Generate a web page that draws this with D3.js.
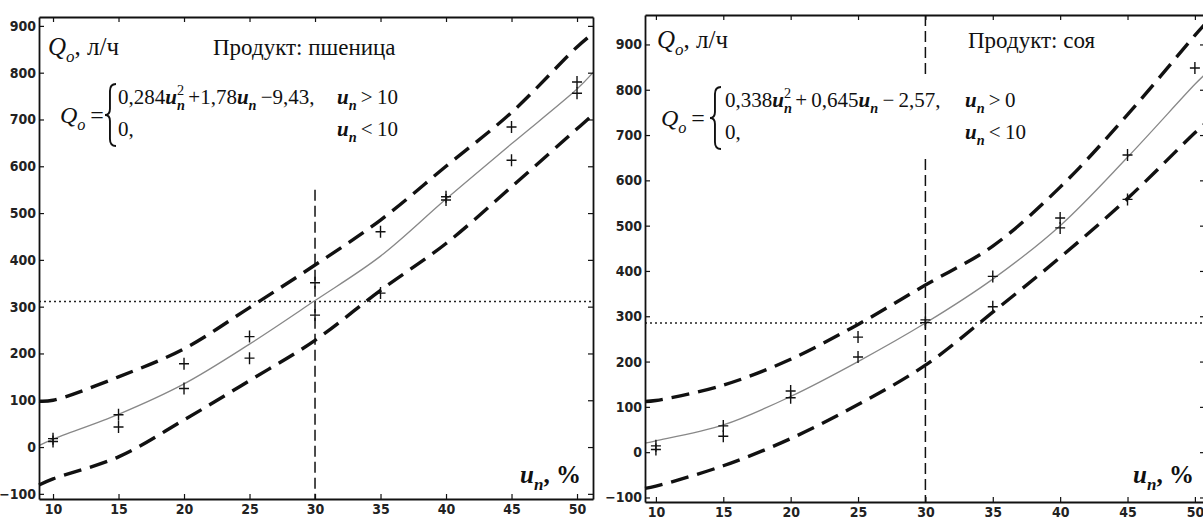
<!DOCTYPE html>
<html>
<head>
<meta charset="utf-8">
<script src="https://cdn.jsdelivr.net/npm/d3@7"></script>
<style>
  body { margin: 0; background: #fff; }
  svg text { font-family: "Liberation Serif", "Times New Roman", serif; fill: #111; }
  .tick text { font-family: "Liberation Sans Narrow", "DejaVu Sans Condensed", sans-serif; font-size: 14px; font-weight: bold; fill: #222; }
  .domain, .tick line { stroke: #111; }
</style>
</head>
<body>
<svg id="chart" width="1203" height="522"></svg>
<script>
// ticks shared by both panels
var xTicks = [10, 15, 20, 25, 30, 35, 40, 45, 50];
var yTicks = [-100, 0, 100, 200, 300, 400, 500, 600, 700, 800, 900];

// Продукт: пшеница
var wheatXLim  = [8.93, 51.22];
var wheatYLim  = [-111, 919];
var wheatU     = [8.93, 10, 15, 20, 25, 30, 35, 40, 45, 50, 51.22];
var wheatFit   = [3, 17, 70, 135, 220, 313, 408, 530, 648, 765, 800];
var wheatUpper = [98, 100, 150, 210, 298, 389, 485, 600, 715, 855, 884];
var wheatLower = [-81, -68, -21, 58, 142, 228, 335, 435, 556, 680, 710];
var wheatPtU   = [10, 10, 15, 15, 20, 20, 25, 25, 30, 30, 35, 35, 40, 40, 45, 45, 50, 50];
var wheatPtQ   = [18, 12, 69, 43, 178, 125, 236, 190, 351, 282, 460, 329, 535, 528, 684, 613, 780, 756];
var wheatRef   = [30, 311];

// Продукт: соя
var soyXLim  = [9.19, 50.75];
var soyYLim  = [-110, 965];
var soyU     = [9.19, 10, 15, 20, 25, 30, 35, 40, 45, 50, 50.75];
var soyFit   = [20, 25, 60, 123, 200, 285, 382, 500, 651, 812, 834];
var soyUpper = [112, 114, 148, 205, 282, 369, 455, 585, 745, 920, 945];
var soyLower = [-80, -75, -30, 30, 105, 192, 309, 430, 560, 705, 725];
var soyPtU   = [10, 10, 15, 15, 20, 20, 25, 25, 30, 30, 35, 35, 40, 40, 45, 45, 50];
var soyPtQ   = [14, 6, 58, 35, 135, 120, 254, 210, 292, 286, 388, 321, 517, 495, 656, 558, 848];
var soyRef   = [30, 285];

var svg = d3.select("#chart");

// text with italic/bold runs and sub/superscripts
function rich(g, x, y, segs, size) {
  var t = g.append("text").attr("x", x).attr("y", y).style("font-size", size + "px");
  var shift = 0, lastW = 0;
  segs.forEach(function(s) {
    var target = s.sub ? size * 0.28 : s.sup ? -size * 0.42 : 0;
    var sp = t.append("tspan").text(s.t)
      .attr("dy", target - shift)
      .style("font-style", s.i ? "italic" : null)
      .style("font-weight", s.b ? "bold" : null)
      .style("font-size", (s.sub || s.sup) ? (size * 0.68) + "px" : null);
    if (s.stack) sp.attr("dx", -lastW);
    shift = target;
    lastW = sp.node().getComputedTextLength();
  });
  return t;
}

function brace(g, x, y0, y1, w) {
  var m = (y0 + y1) / 2, s = x + w * 0.45;
  var p = d3.path();
  p.moveTo(x + w, y0);
  p.quadraticCurveTo(s, y0, s, y0 + 7);
  p.lineTo(s, m - 6);
  p.quadraticCurveTo(s, m, x, m);
  p.quadraticCurveTo(s, m, s, m + 6);
  p.lineTo(s, y1 - 7);
  p.quadraticCurveTo(s, y1, x + w, y1);
  g.append("path").attr("d", p.toString()).attr("fill", "none")
    .attr("stroke", "#111").attr("stroke-width", 1.9);
}

var Qo = [{t: "Q", i: 1}, {t: "o", i: 1, sub: 1}];
var un = [{t: "u", i: 1, b: 1}, {t: "n", i: 1, b: 1, sub: 1}];
var un2 = un.concat([{t: "2", sup: 1, stack: 1}]);

function drawPanel(p) {
  var x = d3.scaleLinear().domain(p.xLim).range([p.left, p.left + p.w]);
  var y = d3.scaleLinear().domain(p.yLim).range([p.top + p.h, p.top]);
  var g = svg.append("g");

  // reference lines
  g.append("line")
    .attr("x1", x(p.ref[0])).attr("x2", x(p.ref[0]))
    .attr("y1", y(p.vFrom)).attr("y2", y(p.yLim[0]))
    .attr("stroke", "#111").attr("stroke-width", 1.5).attr("stroke-dasharray", "11,5");
  g.append("line")
    .attr("x1", x(p.xLim[0])).attr("x2", x(p.xLim[1]))
    .attr("y1", y(p.ref[1])).attr("y2", y(p.ref[1]))
    .attr("stroke", "#222").attr("stroke-width", 1.4).attr("stroke-dasharray", "2,3");

  // formula block sits on white, hiding the reference line
  g.append("rect")
    .attr("x", p.left + p.box[0]).attr("y", p.box[1])
    .attr("width", p.box[2]).attr("height", p.box[3]).attr("fill", "#fff");

  rich(g, p.lab[0], p.lab[1], Qo.concat([{t: ", л/ч"}]), 25);
  g.append("text").attr("x", p.title[0]).attr("y", p.title[1])
    .style("font-size", "23px").text(p.titleText);

  rich(g, p.qx, p.fy + 19, Qo.concat([{t: "\u2009="}]), 24);
  brace(g, p.bx, p.fy - 20, p.fy + 42, 11);
  rich(g, p.lx, p.fy, [{t: "0," + p.c[0]}].concat(un2, [{t: p.op[0] + p.c[1]}], un, [{t: p.op[1] + p.c[2] + ","}]), 21);
  rich(g, p.condX, p.fy, un.concat([{t: "\u2009>\u2009" + p.cond}]), 21);
  rich(g, p.lx, p.fy + 32, [{t: "0,"}], 21);
  rich(g, p.condX, p.fy + 32, un.concat([{t: "\u2009<\u200910"}]), 21);

  rich(g, p.xlab[0], p.xlab[1], un.concat([{t: ", %", b: 1}]), 25);

  // band and fitted curve
  var line = function(vals) {
    return d3.line().curve(d3.curveCatmullRom)
      .x(function(d, i) { return x(p.u[i]); })
      .y(function(d) { return y(d); })(vals);
  };
  [p.upper, p.lower].forEach(function(vals) {
    g.append("path").attr("d", line(vals)).attr("fill", "none")
      .attr("stroke", "#111").attr("stroke-width", 3.4).attr("stroke-dasharray", "18,9");
  });
  g.append("path").attr("d", line(p.fit)).attr("fill", "none")
    .attr("stroke", "#888").attr("stroke-width", 1.3);

  // measured points
  g.selectAll(".pt").data(p.ptQ).enter().append("path")
    .attr("d", function(d, i) {
      var cx = x(p.ptU[i]), cy = y(d);
      return "M" + (cx - 5) + "," + cy + "H" + (cx + 5) + "M" + cx + "," + (cy - 6) + "V" + (cy + 6);
    })
    .attr("stroke", "#111").attr("stroke-width", 1.4);

  // box with inward ticks
  g.append("g").attr("transform", "translate(0," + y(p.yLim[0]) + ")")
    .call(d3.axisBottom(x).tickValues(xTicks).tickSizeInner(-5).tickSizeOuter(0).tickPadding(5));
  g.append("g").attr("transform", "translate(0," + y(p.yLim[1]) + ")")
    .call(d3.axisTop(x).tickValues(xTicks).tickFormat("").tickSizeInner(-5).tickSizeOuter(0));
  g.append("g").attr("transform", "translate(" + x(p.xLim[0]) + ",0)")
    .call(d3.axisLeft(y).tickValues(yTicks).tickSizeInner(-5).tickSizeOuter(0).tickPadding(3));
  g.append("g").attr("transform", "translate(" + x(p.xLim[1]) + ",0)")
    .call(d3.axisRight(y).tickValues(yTicks).tickFormat("").tickSizeInner(-5).tickSizeOuter(0));
  g.selectAll(".domain").attr("stroke-width", 1.8);
  g.selectAll(".tick line").attr("stroke-width", 1.2);
}

drawPanel({
  left: 39, top: 17, w: 554, h: 482,
  xLim: wheatXLim, yLim: wheatYLim, u: wheatU,
  fit: wheatFit, upper: wheatUpper, lower: wheatLower,
  ptU: wheatPtU, ptQ: wheatPtQ, ref: wheatRef, vFrom: 550,
  box: [10, 70, 380, 115],
  lab: [48, 55], title: [213, 55], titleText: "Продукт: пшеница",
  qx: 60, bx: 105, lx: 118, fy: 104, c: ["284", "1,78", "9,43"], op: ["\u2009+", "\u2009−"],
  condX: 337, cond: "10",
  xlab: [520, 483]
});

drawPanel({
  left: 645, top: 15, w: 560, h: 487,
  xLim: soyXLim, yLim: soyYLim, u: soyU,
  fit: soyFit, upper: soyUpper, lower: soyLower,
  ptU: soyPtU, ptQ: soyPtQ, ref: soyRef, vFrom: soyYLim[1],
  box: [10, 74, 390, 84],
  lab: [657, 48], title: [968, 48], titleText: "Продукт: соя",
  qx: 661, bx: 710, lx: 725, fy: 107, c: ["338", "0,645", "2,57"], op: ["\u2009+\u2009", "\u2009−\u2009"],
  condX: 965, cond: "0",
  xlab: [1133, 483]
});
</script>
</body>
</html>
